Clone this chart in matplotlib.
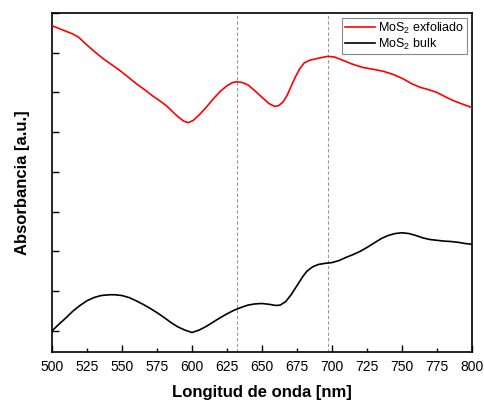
import numpy as np
import matplotlib
matplotlib.use('Agg')
import matplotlib.pyplot as plt
from matplotlib.ticker import MultipleLocator, FormatStrFormatter

plt.rcParams['font.family'] = ['Liberation Sans', 'DejaVu Sans']
plt.rcParams['mathtext.fontset'] = 'custom'
plt.rcParams['mathtext.rm'] = 'Liberation Sans'

# MoS2 exfoliado (rojo)
exf_nm = [500, 505, 510, 515, 519, 523, 527, 532, 537, 543, 549, 555, 561,
          567, 572, 577, 582, 586, 590, 594, 597.5, 601, 605, 610, 615, 620,
          625, 629, 632, 636, 640, 645, 650, 655, 659, 662, 665, 668, 671,
          674, 677, 680, 684, 690, 697, 702, 707, 714, 722, 730, 737, 744,
          751, 757, 763, 769, 775, 781, 787, 793, 800]
exf_abs = [7.68, 7.61, 7.54, 7.47, 7.39, 7.26, 7.13, 6.98, 6.84, 6.69, 6.54,
           6.37, 6.20, 6.05, 5.91, 5.79, 5.66, 5.52, 5.39, 5.28, 5.24, 5.30,
           5.43, 5.62, 5.83, 6.02, 6.17, 6.25, 6.27, 6.25, 6.19, 6.04, 5.88,
           5.72, 5.65, 5.67, 5.76, 5.93, 6.17, 6.40, 6.60, 6.74, 6.81, 6.86,
           6.91, 6.89, 6.82, 6.72, 6.63, 6.58, 6.53, 6.45, 6.34, 6.22, 6.13,
           6.07, 6.00, 5.89, 5.79, 5.71, 5.62]

# MoS2 bulk (negro)
bulk_nm = [500, 505, 510, 515, 520, 525, 530, 535, 541, 545, 550, 555, 560,
           565, 570, 575, 580, 585, 590, 595, 600, 605, 610, 615, 620, 625,
           630, 635, 640, 645, 650, 655, 660, 663, 667, 671, 675, 679, 682,
           686, 690, 695, 700, 705, 710, 715, 720, 725, 730, 735, 740, 745,
           750, 755, 760, 765, 770, 775, 780, 785, 790, 795, 800]
bulk_abs = [0.0, 0.17, 0.33, 0.50, 0.64, 0.76, 0.84, 0.89, 0.91, 0.91, 0.89,
            0.84, 0.76, 0.67, 0.57, 0.46, 0.34, 0.21, 0.10, 0.02, -0.04, 0.02,
            0.11, 0.22, 0.33, 0.43, 0.52, 0.59, 0.65, 0.68, 0.69, 0.67, 0.64,
            0.65, 0.74, 0.92, 1.14, 1.36, 1.50, 1.61, 1.67, 1.70, 1.72, 1.77,
            1.85, 1.92, 2.00, 2.10, 2.21, 2.32, 2.40, 2.45, 2.47, 2.45, 2.40,
            2.34, 2.30, 2.28, 2.26, 2.25, 2.23, 2.20, 2.18]

picos = [632, 697]

fig = plt.figure(figsize=(4.85, 4.05), dpi=100)
ax = fig.add_axes([0.1072, 0.1309, 0.866, 0.837])

for p in picos:
    ax.axvline(p, color='#999999', lw=0.8, ls=(0, (3, 2)), zorder=1)

ax.plot(exf_nm, exf_abs, color='#ff0000', lw=1.2, label=r'MoS$_2$ exfoliado', zorder=3)
ax.plot(bulk_nm, bulk_abs, color='#000000', lw=1.2, label=r'MoS$_2$ bulk', zorder=3)

ax.set_xlim(500, 800)
ax.set_ylim(-0.53, 8.0)

ax.xaxis.set_major_locator(MultipleLocator(50))
ax.xaxis.set_minor_locator(MultipleLocator(25))
ax.xaxis.set_major_formatter(FormatStrFormatter('%d'))
ax.xaxis.set_minor_formatter(FormatStrFormatter('%d'))
ax.tick_params(axis='x', which='major', direction='in', length=5, width=1,
               labelsize=10, pad=6)
ax.tick_params(axis='x', which='minor', direction='in', length=3, width=1,
               labelsize=10, pad=6)

ax.yaxis.set_major_locator(MultipleLocator(1))
ax.tick_params(axis='y', which='major', direction='in', length=5, width=1,
               labelleft=False)

for s in ax.spines.values():
    s.set_linewidth(1.2)

ax.set_xlabel('Longitud de onda [nm]', fontsize=12, fontweight='bold', labelpad=8)
ax.set_ylabel('Absorbancia [a.u.]', fontsize=12, fontweight='bold', labelpad=16)

leg = ax.legend(loc='upper right', fontsize=9, fancybox=False, framealpha=1,
                edgecolor='#888888', handlelength=2.4, handletextpad=0.3,
                borderpad=0.2, labelspacing=0.1, borderaxespad=0.4)
leg.get_frame().set_linewidth(0.8)

fig.savefig('out.png', dpi=100)
